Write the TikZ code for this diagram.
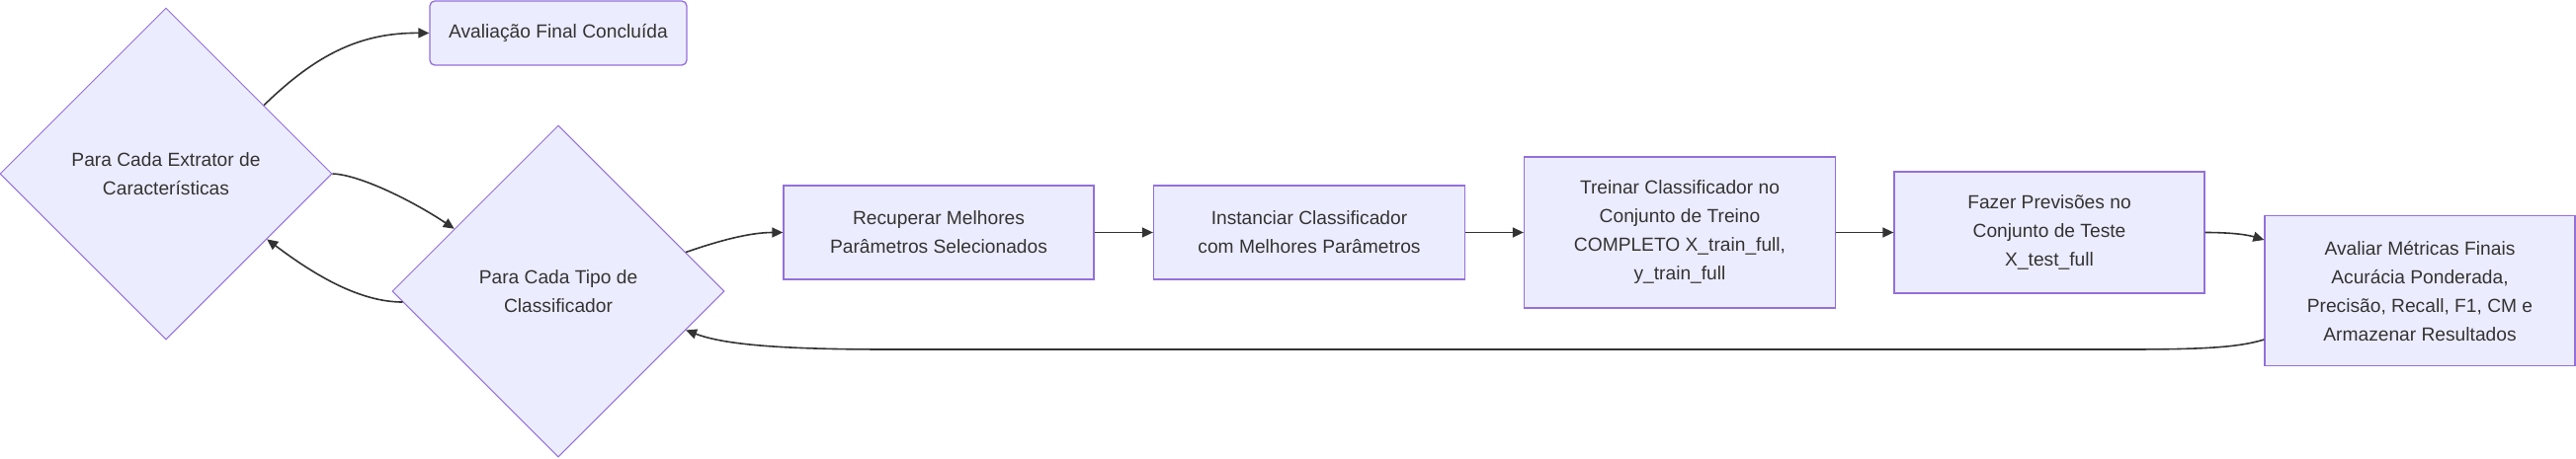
\documentclass[tikz,border=0pt]{standalone}
\usepackage{fontspec}
\setmainfont{Liberation Sans}
\usetikzlibrary{shapes.geometric,arrows.meta,calc}
\definecolor{nodefill}{HTML}{ECECFF}
\definecolor{nodeline}{HTML}{9370DB}
\definecolor{edgecol}{HTML}{333333}
\definecolor{txt}{HTML}{333333}
\begin{document}
\begin{tikzpicture}[x=1pt,y=-1pt,
  txtfont/.style={font=\fontsize{19.2}{29}\selectfont, text=txt, align=center},
  procbox/.style={txtfont, rectangle, draw=nodeline, fill=nodefill, line width=1.3pt, inner sep=0pt},
  decision/.style={txtfont, diamond, aspect=1, draw=nodeline, fill=nodefill, line width=1pt, inner sep=0pt, minimum width=336pt, minimum height=336pt},
  conn/.style={draw=edgecol, line width=1.6pt, -{Triangle[length=11pt,width=10pt]}}]
\useasboundingbox (0,0) rectangle (2607,464);

\node[decision] (A) at (168,176) {Para Cada Extrator de\\Características};
\node[decision] (B) at (565,295) {Para Cada Tipo de\\Classificador};
\node[procbox, rounded corners=5pt, minimum width=260pt, minimum height=65pt] (Fim) at (565,33.5) {Avaliação Final Concluída};
\node[procbox, minimum width=314pt, minimum height=95pt] (Rec) at (950,235.5) {Recuperar Melhores\\Parâmetros Selecionados};
\node[procbox, minimum width=315pt, minimum height=95pt] (Inst) at (1325,235.5) {Instanciar Classificador\\com Melhores Parâmetros};
\node[procbox, minimum width=315pt, minimum height=153pt] (Trei) at (1700,235.5) {Treinar Classificador no\\Conjunto de Treino\\COMPLETO X\_train\_full,\\y\_train\_full};
\node[procbox, minimum width=314pt, minimum height=123pt] (Faz) at (2074,235.5) {Fazer Previsões no\\Conjunto de Teste\\X\_test\_full};
\node[procbox, minimum width=314pt, minimum height=152pt] (Aval) at (2449,294.7) {Avaliar Métricas Finais\\Acurácia Ponderada,\\Precisão, Recall, F1, CM e\\Armazenar Resultados};

\coordinate (favin) at ($(Aval.west |- Faz.east)+(0,7.5)$);
\coordinate (avout) at ($(Aval.west)+(0,49.3)$);

\draw[conn] (A.35) .. controls (320,55) and (365,33) .. (Fim.west);
\draw[conn] (A.east) .. controls (365,177) and (420,205) .. (B.149);
\draw[conn] (B.184) .. controls (365,306) and (320,280) .. (A.-33);
\draw[conn] (B.17) .. controls (730,243) and (760,235.5) .. (Rec.west);
\draw[conn] (Rec.east) -- (Inst.west);
\draw[conn] (Inst.east) -- (Trei.west);
\draw[conn] (Trei.east) -- (Faz.west);
\draw[conn] (Faz.east) .. controls (2260,235.5) and (2275,238) .. (favin);
\draw[conn] (avout) .. controls (2265,352) and (2230,354) .. (2150,354) -- (900,354) .. controls (780,354) and (730,348) .. (B.-17);
\end{tikzpicture}
\end{document}
